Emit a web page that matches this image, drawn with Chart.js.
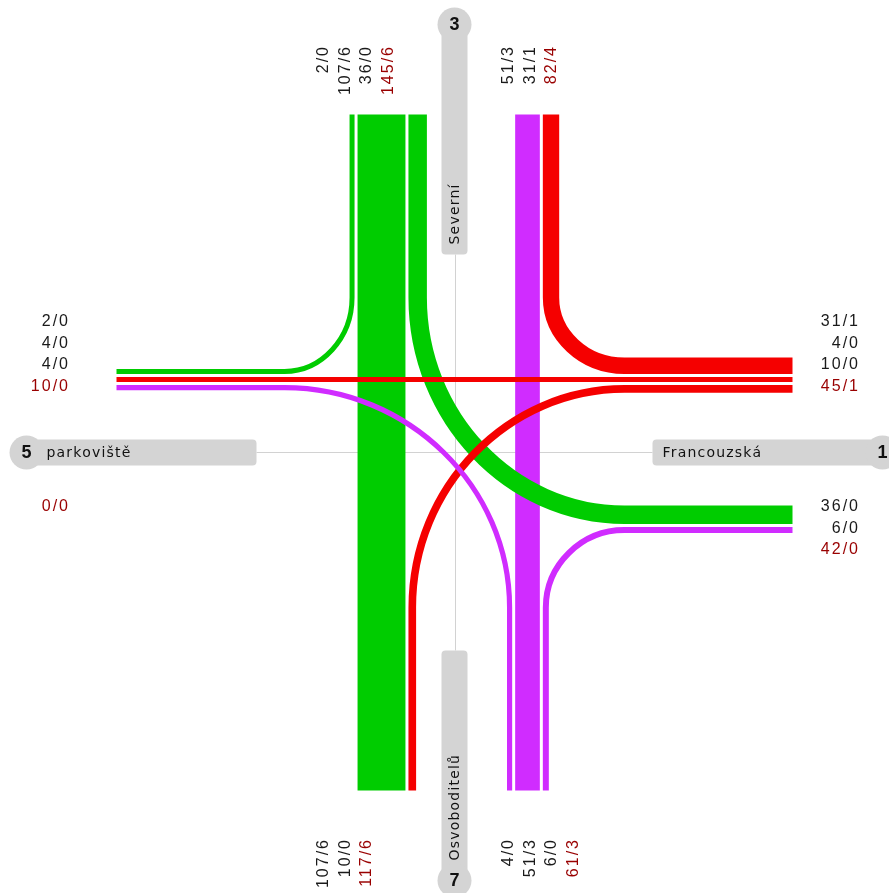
<!DOCTYPE html>
<html>
<head>
<meta charset="utf-8">
<title>Křižovatka – dopravní proudy</title>
<script src="https://cdn.jsdelivr.net/npm/chart.js@4/dist/chart.umd.min.js"></script>
<style>
  html, body { margin: 0; padding: 0; background: #ffffff; }
  #wrap { width: 889px; height: 893px; }
</style>
</head>
<body>
<div id="wrap"><canvas id="junction" width="889" height="893"></canvas></div>
<script>
// Approaches of the junction: arm number, street name, compass side
const armIds   = [1, 3, 5, 7];
const armNames = ['Francouzská', 'Severní', 'parkoviště', 'Osvoboditelů'];
const armSides = ['E', 'N', 'W', 'S'];

// Turning movements: origin arm, destination arm, vehicles, of which heavy vehicles
const flowFrom  = [3, 3, 3, 1, 1, 1, 7, 7, 7];
const flowTo    = [5, 7, 1, 3, 5, 7, 5, 3, 1];
const flowCars  = [2, 107, 36, 31, 4, 10, 4, 51, 6];
const flowHeavy = [0, 6, 0, 1, 0, 0, 0, 3, 0];

// Colour of the traffic coming from each arm
const originColors = { 1: '#f50000', 3: '#00cc00', 5: '#3b6cff', 7: '#d02cff' };

// ---- layout (canvas units) ----
const CX = 454.5, CY = 452.5;       // centre of the junction
const ARM_LEN = 338;                 // where lanes end
const BOX = { N: 155, S: 155, E: 170, W: 170 };  // where turning curves start
const LANE_AXIS = 73;                // through-lane offset from the road axis
const LANE_GAP = 3;
const CURVE_K = 0.55;
const PLATE_IN = 198, PLATE_OUT = 428, PLATE_HALF = 13, BADGE_R = 17;
const LABEL_STEP = 21.7, LABEL_NEG = -131, LABEL_POS = 54;
const LABEL_EDGE = { N: 45, S: 838, W: 70, E: 860 };

const DIRS = { E: { x: 1, y: 0 }, N: { x: 0, y: -1 }, W: { x: -1, y: 0 }, S: { x: 0, y: 1 } };
const sideOf = id => armSides[armIds.indexOf(id)];
const dirOf = id => DIRS[sideOf(id)];

function turnOf(i) {
  const a = dirOf(flowFrom[i]), b = dirOf(flowTo[i]);
  const c = (-a.x) * b.y - (-a.y) * b.x;
  return c > 0 ? 'R' : c < 0 ? 'L' : 'S';
}
const widthOf = i => Math.max(5, 3.5 + 0.415 * flowCars[i]);

// lateral offsets of every movement on its entry and exit carriageway
const offIn = [], offOut = [];
function stackSide(idx, target) {
  const S = idx.filter(i => turnOf(i) === 'S');
  const R = idx.filter(i => turnOf(i) === 'R');
  const L = idx.filter(i => turnOf(i) === 'L');
  const half = S.length ? widthOf(S[0]) / 2 + LANE_GAP : LANE_GAP / 2;
  S.forEach(i => { target[i] = LANE_AXIS; });
  let d = LANE_AXIS + half;
  R.forEach(i => { target[i] = d + widthOf(i) / 2; d += widthOf(i) + LANE_GAP; });
  d = LANE_AXIS - half;
  L.forEach(i => { target[i] = d - widthOf(i) / 2; d -= widthOf(i) + LANE_GAP; });
}
const flowsFrom = id => flowFrom.map((f, i) => (f === id && flowCars[i] > 0 ? i : -1)).filter(i => i >= 0);
const flowsTo   = id => flowTo.map((t, i) => (t === id && flowCars[i] > 0 ? i : -1)).filter(i => i >= 0);
armIds.forEach(id => { stackSide(flowsFrom(id), offIn); stackSide(flowsTo(id), offOut); });

// right-hand side vector of a carriageway (traffic drives on the right)
function sideVec(id, side) {
  const a = dirOf(id);
  return side === 'in' ? { x: a.y, y: -a.x } : { x: -a.y, y: a.x };
}
function pointOn(id, side, s, d) {
  const a = dirOf(id), r = sideVec(id, side);
  return { x: CX + a.x * s + r.x * d, y: CY + a.y * s + r.y * d };
}

// one dataset per movement: lane end, curve start, curve end, lane end;
// smaller movements are painted over the bigger ones
const datasets = flowFrom.map((from, i) => {
  const to = flowTo[i];
  return {
    label: from + ' → ' + to + ': ' + flowCars[i] + '/' + flowHeavy[i],
    turn: turnOf(i),
    data: [
      pointOn(from, 'in', ARM_LEN, offIn[i]),
      pointOn(from, 'in', BOX[sideOf(from)], offIn[i]),
      pointOn(to, 'out', BOX[sideOf(to)], offOut[i]),
      pointOn(to, 'out', ARM_LEN, offOut[i])
    ],
    borderColor: originColors[from],
    backgroundColor: originColors[from],
    borderWidth: widthOf(i),
    pointRadius: 0,
    order: flowCars[i]
  };
}).filter((d, i) => flowCars[i] > 0);

// draws each movement as a ribbon: straight lane, smooth turn, straight lane
const ribbonPlugin = {
  id: 'ribbons',
  beforeDatasetDraw(chart, args) {
    const ds = chart.data.datasets[args.index];
    const p = args.meta.data.map(e => ({ x: e.x, y: e.y }));
    const ctx = chart.ctx;
    ctx.save();
    ctx.beginPath();
    ctx.moveTo(p[0].x, p[0].y);
    ctx.lineTo(p[1].x, p[1].y);
    if (ds.turn === 'S') {
      ctx.lineTo(p[2].x, p[2].y);
    } else {
      const vertical = Math.abs(p[0].x - p[1].x) < 0.5;
      const c = vertical ? { x: p[1].x, y: p[2].y } : { x: p[2].x, y: p[1].y };
      ctx.bezierCurveTo(
        p[1].x + CURVE_K * (c.x - p[1].x), p[1].y + CURVE_K * (c.y - p[1].y),
        p[2].x + CURVE_K * (c.x - p[2].x), p[2].y + CURVE_K * (c.y - p[2].y),
        p[2].x, p[2].y);
    }
    ctx.lineTo(p[3].x, p[3].y);
    ctx.lineWidth = ds.borderWidth;
    ctx.strokeStyle = ds.borderColor;
    ctx.lineCap = 'butt';
    ctx.lineJoin = 'round';
    ctx.stroke();
    ctx.restore();
    return false;
  }
};

// road axes, name plates with arm numbers, and the volume labels
const decorPlugin = {
  id: 'decor',
  beforeDatasetsDraw(chart) {
    const ctx = chart.ctx, xs = chart.scales.x, ys = chart.scales.y;
    const X = v => xs.getPixelForValue(v), Y = v => ys.getPixelForValue(v);
    ctx.save();
    ctx.strokeStyle = '#d2d2d2';
    ctx.lineWidth = 1;
    ctx.beginPath();
    ctx.moveTo(Math.round(X(CX)) + 0.5, Y(CY - PLATE_IN));
    ctx.lineTo(Math.round(X(CX)) + 0.5, Y(CY + PLATE_IN));
    ctx.moveTo(X(CX - PLATE_IN), Math.round(Y(CY)) + 0.5);
    ctx.lineTo(X(CX + PLATE_IN), Math.round(Y(CY)) + 0.5);
    ctx.stroke();

    armIds.forEach((id, k) => {
      const a = dirOf(id);
      const vertical = a.x === 0;
      const p1 = { x: CX + a.x * PLATE_IN, y: CY + a.y * PLATE_IN };
      const p2 = { x: CX + a.x * PLATE_OUT, y: CY + a.y * PLATE_OUT };
      const x0 = Math.min(p1.x, p2.x) - (vertical ? PLATE_HALF : 0);
      const x1 = Math.max(p1.x, p2.x) + (vertical ? PLATE_HALF : 0);
      const y0 = Math.min(p1.y, p2.y) - (vertical ? 0 : PLATE_HALF);
      const y1 = Math.max(p1.y, p2.y) + (vertical ? 0 : PLATE_HALF);
      ctx.fillStyle = '#d4d4d4';
      ctx.beginPath();
      ctx.roundRect(X(x0), Y(y0), X(x1) - X(x0), Y(y1) - Y(y0), 4);
      ctx.fill();
      ctx.beginPath();
      ctx.arc(X(p2.x), Y(p2.y), BADGE_R, 0, Math.PI * 2);
      ctx.fill();

      ctx.fillStyle = '#111111';
      ctx.font = 'bold 18px "Liberation Sans", Arial, sans-serif';
      ctx.textAlign = 'center';
      ctx.textBaseline = 'middle';
      ctx.fillText(String(id), X(p2.x), Y(p2.y) + 1);

      // street name starts at the left / bottom end of the plate
      ctx.font = '14px "DejaVu Sans", sans-serif';
      ctx.letterSpacing = '1.2px';
      ctx.textAlign = 'left';
      if (vertical) {
        const badgeLow = p2.y > p1.y;
        const start = badgeLow ? p2.y - 20 : Math.max(p1.y, p2.y) - 10;
        ctx.save();
        ctx.translate(X(CX), Y(start));
        ctx.rotate(-Math.PI / 2);
        ctx.fillText(armNames[k], 0, 1);
        ctx.restore();
      } else {
        const badgeLeft = p2.x < p1.x;
        const start = badgeLeft ? p2.x + 20 : Math.min(p1.x, p2.x) + 10;
        ctx.fillText(armNames[k], X(start), Y(CY) + 1);
      }
      ctx.letterSpacing = '0px';
    });
    ctx.restore();
  },
  afterDatasetsDraw(chart) {
    const ctx = chart.ctx, xs = chart.scales.x, ys = chart.scales.y;
    const X = v => xs.getPixelForValue(v), Y = v => ys.getPixelForValue(v);
    ctx.save();
    ctx.font = '16px "Liberation Sans", Arial, sans-serif';
    ctx.letterSpacing = '2px';
    ctx.textBaseline = 'middle';
    ctx.textAlign = 'right';
    armIds.forEach(id => {
      const side = sideOf(id);
      const vertical = side === 'N' || side === 'S';
      ['in', 'out'].forEach(dir => {
        const idx = dir === 'in' ? flowsFrom(id) : flowsTo(id);
        const off = dir === 'in' ? offIn : offOut;
        const r = sideVec(id, dir);
        const sign = vertical ? r.x : r.y;
        // lanes in screen order, then the carriageway total
        const lanes = idx.slice().sort((i, j) => (off[i] - off[j]) * sign);
        const texts = lanes.map(i => ({ t: flowCars[i] + '/' + flowHeavy[i], c: '#1a1a1a' }));
        const sumV = idx.reduce((s, i) => s + flowCars[i], 0);
        const sumH = idx.reduce((s, i) => s + flowHeavy[i], 0);
        texts.push({ t: sumV + '/' + sumH, c: '#990000' });
        const start = sign < 0 ? LABEL_NEG : LABEL_POS;
        texts.forEach((o, n) => {
          ctx.fillStyle = o.c;
          const pos = start + n * LABEL_STEP;
          if (vertical) {
            ctx.save();
            ctx.translate(X(CX + pos), Y(LABEL_EDGE[side]));
            ctx.rotate(-Math.PI / 2);
            ctx.fillText(o.t, 0, 0);
            ctx.restore();
          } else {
            ctx.fillText(o.t, X(LABEL_EDGE[side]), Y(CY + pos));
          }
        });
      });
    });
    ctx.restore();
  }
};

new Chart(document.getElementById('junction'), {
  type: 'scatter',
  data: { datasets },
  options: {
    responsive: false,
    animation: false,
    events: [],
    layout: { padding: 0 },
    plugins: { legend: { display: false }, tooltip: { enabled: false } },
    scales: {
      x: { type: 'linear', min: 0, max: 889, display: false },
      y: { type: 'linear', min: 0, max: 893, reverse: true, display: false }
    }
  },
  plugins: [decorPlugin, ribbonPlugin]
});
</script>
</body>
</html>
